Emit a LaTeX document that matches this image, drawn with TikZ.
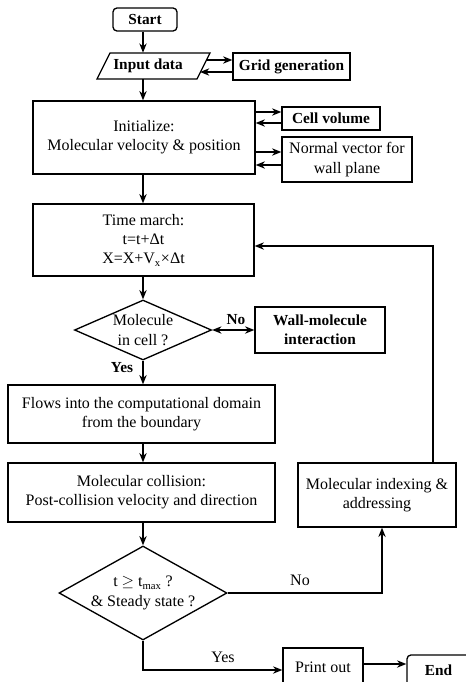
\documentclass[tikz,border=0pt]{standalone}
\usepackage{fontspec}
\setmainfont{Liberation Serif}
\usetikzlibrary{shapes.geometric,arrows.meta}
\newcommand{\fsz}{\fontsize{12}{14.5}\selectfont}
\newcommand{\fszb}{\fontsize{11.5}{14}\selectfont\bfseries}
\begin{document}
\begin{tikzpicture}[x=0.75pt,y=-0.75pt,
  font=\fsz,
  box/.style={draw, line width=1pt, inner sep=0pt, align=center},
  term/.style={box, rounded corners=3pt},
  dia/.style={draw, diamond, line width=1pt, inner sep=0pt},
  lbl/.style={inner sep=0pt, align=center},
  bf/.style={font=\fszb},
  arr/.style={-{Stealth[length=7pt,width=5.5pt]}, line width=1pt},
  darr/.style={{Stealth[length=7pt,width=5.5pt]}-{Stealth[length=7pt,width=5.5pt]}, line width=1pt},
  ln/.style={line width=1pt}
]
\useasboundingbox (0,0) rectangle (466,682);
\coordinate (ax) at (143,0);

% start
\node[term, bf, minimum width=48pt, minimum height=17.25pt] (start) at (145,19.5) {Start};

% input data (parallelogram)
\coordinate (pBL) at (97,79);
\coordinate (pTL) at (110,53);
\coordinate (pTR) at (210,53);
\coordinate (pBR) at (197,79);
\draw[ln] (pBL) -- (pTL) -- (pTR) -- (pBR) -- cycle;
\node[lbl, bf, minimum height=19.5pt] (inp) at (148,66) {Input data};
\coordinate (inR1) at (206,60);
\coordinate (inR2) at (200,72);

% grid generation
\node[box, bf, minimum width=87.75pt, minimum height=20.25pt] (grid) at (291.5,66.5) {Grid generation};
\draw[arr] (inR1) -- (grid.west |- inR1);
\draw[arr] (grid.west |- inR2) -- (inR2);

% initialize
\node[box, minimum width=166.5pt, minimum height=54.75pt] (init) at (144,137.5) {Initialize:\\Molecular velocity \& position};
\draw[arr] (start.south -| ax) -- (inp.north -| ax);
\draw[arr] (inp.south -| ax) -- (init.north -| ax);

% cell volume / normal vector
\node[box, bf, minimum width=73.5pt, minimum height=17.25pt] (cell) at (331,118.5) {Cell volume};
\node[box, minimum width=97.5pt, minimum height=33.75pt] (norm) at (347,159.5) {Normal vector for\\wall plane};
\coordinate (y112) at (0,112);
\coordinate (y123) at (0,123);
\coordinate (y152) at (0,152);
\coordinate (y165) at (0,165);
\draw[arr] (init.east |- y112) -- (cell.west |- y112);
\draw[arr] (cell.west |- y123) -- (init.east |- y123);
\draw[arr] (init.east |- y152) -- (norm.west |- y152);
\draw[arr] (norm.west |- y165) -- (init.east |- y165);

% time march
\node[box, minimum width=165.75pt, minimum height=54pt] (time) at (143.5,240) {Time march:\\t=t+Δt\\X=X+V\textsubscript{x}×Δt};
\draw[arr] (init.south -| ax) -- (time.north -| ax);

% decision 1
\node[dia, minimum width=102.75pt, minimum height=45pt] (d1) at (143,330) {};
\node[lbl] (d1t) at (d1.center) {Molecule\\in cell ?};
\draw[arr] (time.south -| ax) -- (d1.north);

% wall-molecule
\node[box, bf, minimum width=97.5pt, minimum height=34.5pt] (wall) at (320,330) {Wall-molecule\\interaction};
\draw[darr] (d1.east) -- (wall.west);
\node[lbl, bf] (no1) at (236,320) {No};

% flows
\node[box, minimum width=200.25pt, minimum height=43.5pt] (flows) at (141.5,414) {Flows into the computational domain\\from the boundary};
\draw[arr] (d1.south) -- (flows.north -| d1.south);
\node[lbl, bf] (yes1) at (122,368) {Yes};

% collision
\node[box, minimum width=200.25pt, minimum height=44.25pt] (coll) at (141.5,492.5) {Molecular collision:\\Post-collision velocity and direction};
\draw[arr] (flows.south -| ax) -- (coll.north -| ax);

% decision 2
\node[dia, minimum width=126pt, minimum height=70.5pt] (d2) at (143,593) {};
\node[lbl] (d2t) at (d2.center) {t $\geq$ t\textsubscript{max} ?\\\& Steady state ?};
\draw[arr] (coll.south -| d2.north) -- (d2.north);

% indexing
\node[box, minimum width=118.5pt, minimum height=48pt] (idx) at (377,495) {Molecular indexing \&\\addressing};
\coordinate (c382) at (382,0);
\draw[arr] (d2.east) -| (idx.south -| c382);
\node[lbl] (no2) at (300,580) {No};
\coordinate (c433) at (433,246);
\draw[arr] (idx.north -| c433) |- (time.east |- c433);

% print out / end
\node[box, minimum width=60pt, minimum height=28.5pt] (pr) at (323,667) {Print out};
\node[term, bf, minimum width=47.25pt, minimum height=26.25pt] (end) at (438.5,672.5) {\raisebox{4pt}{End}};
\coordinate (y670) at (0,670);
\coordinate (y664) at (0,664);
\draw[arr] (d2.south) |- (pr.west |- y670);
\node[lbl] (yes2) at (223,657) {Yes};
\draw[arr] (pr.east |- y664) -- (end.west |- y664);
\end{tikzpicture}
\end{document}
